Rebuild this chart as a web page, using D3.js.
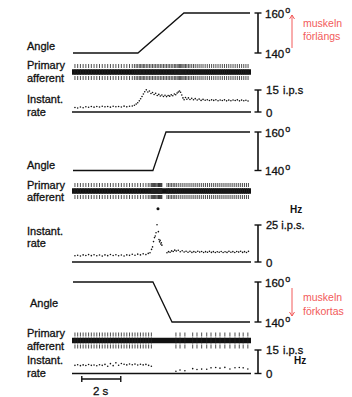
<!DOCTYPE html>
<html>
<head>
<meta charset="utf-8">
<script src="https://cdn.jsdelivr.net/npm/d3@7"></script>
<style>
  body { margin: 0; background: #fff; }
  svg { display: block; }
  text { font-family: "Liberation Sans", Arial, Helvetica, sans-serif; }
</style>
</head>
<body>
<svg id="fig" width="352" height="397"></svg>
<script>
// Joint angle (degrees) vs time (s) for the three manoeuvres
const angleSlowStretch = [[0, 140], [3.33, 140], [5.69, 160], [9.08, 160]];
const angleFastStretch = [[0, 140], [4.10, 140], [4.77, 160], [9.08, 160]];
const angleRelease     = [[0, 160], [4.10, 160], [5.08, 140], [9.08, 140]];

// Instantaneous discharge rate [time s, impulses/s]; every dot is one spike
const rateSlowStretch = [
  [0.10,3.1],[0.24,2.7],[0.38,3.4],[0.52,2.9],[0.66,3.6],[0.80,3.2],[0.94,3.8],[1.08,3.3],
  [1.22,3.7],[1.36,3.4],[1.50,3.9],[1.64,3.5],[1.78,3.8],[1.92,3.3],[2.06,3.9],[2.20,3.6],
  [2.34,3.8],[2.48,3.4],[2.62,4.0],[2.76,3.5],[2.90,3.9],[3.04,4.1],
  [3.15,4.6],[3.24,5.4],[3.32,6.3],[3.40,7.6],[3.47,9.0],[3.54,10.6],[3.61,12.3],[3.68,13.8],
  [3.76,15.1],[3.84,13.6],[3.92,14.3],[4.00,12.6],[4.08,13.3],[4.16,11.9],[4.24,12.7],[4.32,11.3],
  [4.40,12.0],[4.48,10.9],[4.56,11.6],[4.64,10.6],[4.72,11.4],[4.80,10.5],[4.88,11.2],[4.96,10.8],
  [5.04,11.7],[5.12,11.1],[5.20,12.3],[5.27,11.8],[5.34,12.9],[5.40,13.6],[5.46,14.3],[5.52,13.5],
  [5.58,11.6],[5.64,9.6],[5.70,8.4],[5.77,9.9],[5.84,8.7],[5.92,9.6],[6.00,8.5],[6.09,9.3],
  [6.18,8.4],[6.27,9.1],[6.37,8.2],[6.47,8.8],[6.57,7.9],[6.67,8.6],[6.78,8.0],[6.89,8.4],
  [7.00,7.8],[7.11,8.3],[7.22,7.9],[7.33,8.4],[7.44,7.7],[7.55,8.2],[7.66,7.8],[7.77,8.3],
  [7.88,7.6],[7.99,8.1],[8.10,7.7],[8.21,8.2],[8.32,7.8],[8.43,8.3],[8.54,7.6],[8.65,8.1],
  [8.76,7.7],[8.87,8.0],[8.98,7.5]
];
const rateFastStretch = [
  [0.10,4.2],[0.24,4.6],[0.38,4.1],[0.52,4.8],[0.66,4.4],[0.80,5.0],[0.94,4.3],[1.08,4.9],
  [1.22,4.2],[1.36,4.7],[1.50,4.0],[1.64,4.8],[1.78,4.3],[1.92,5.1],[2.06,4.4],[2.20,4.9],
  [2.34,4.2],[2.48,4.7],[2.62,4.1],[2.76,4.8],[2.90,4.5],[3.04,5.2],[3.18,4.6],[3.32,5.3],
  [3.46,4.8],[3.60,5.5],[3.74,5.0],[3.86,5.8],
  [3.95,6.3],[4.03,8.5],[4.08,10.2],[4.13,13.8],[4.18,16.5],[4.22,17.6],[4.26,19.8],[4.31,25.2],
  [4.36,36.0],[4.38,20.5],[4.41,15.2],[4.44,13.6],[4.47,14.6],[4.50,12.2],[4.53,13.0],[4.56,11.4],
  [4.82,6.2],[4.90,7.0],[4.98,6.6],[5.06,7.5],[5.14,7.1],[5.22,8.0],[5.30,7.4],[5.40,7.9],
  [5.50,6.9],[5.60,7.6],[5.70,6.8],[5.80,7.3],[5.90,6.6],[6.00,7.2],[6.10,6.5],[6.20,7.0],
  [6.30,6.6],[6.40,7.3],[6.50,6.7],[6.60,7.1],[6.70,6.4],[6.80,7.0],[6.90,6.6],[7.00,7.2],
  [7.10,6.5],[7.20,7.0],[7.30,6.4],[7.40,6.9],[7.50,6.6],[7.60,7.1],[7.70,6.4],[7.80,6.9],
  [7.90,6.5],[8.00,7.2],[8.10,6.6],[8.20,7.0],[8.30,6.4],[8.40,7.1],[8.50,6.7],[8.60,7.3],
  [8.70,6.5],[8.80,7.0],[8.90,6.4],[9.00,7.2]
];
const rateRelease = [
  [0.10,5.2],[0.24,5.6],[0.38,5.0],[0.52,5.5],[0.66,5.1],[0.80,5.7],[0.94,5.2],[1.08,5.4],
  [1.22,4.9],[1.36,5.6],[1.50,5.2],[1.64,5.8],[1.78,4.6],[1.92,6.3],[2.06,5.0],[2.20,6.8],
  [2.34,5.3],[2.48,6.4],[2.62,5.9],[2.76,5.5],[2.90,6.1],[3.04,5.6],[3.18,6.0],[3.32,5.4],
  [3.46,5.9],[3.60,5.5],[3.74,5.8],[3.88,5.2],[4.02,4.6],
  [5.28,1.4],[5.49,2.2],[5.74,1.8],[6.14,3.1],[6.36,2.6],[6.60,2.8],[6.86,2.7],[7.08,3.6],
  [7.32,3.8],[7.54,3.4],[7.79,3.9],[8.05,2.9],[8.31,3.7],[8.53,3.8],[8.73,3.6],[8.97,2.9]
];

// Scale-bar values
const angleTicks = [140, 160];
const rateTopTicks = [15, 25, 15];
const rateUnits = ["i.p.s", "i.p.s.", "i.p.s"];
const timeBarSeconds = [0.45, 2.45];
const timeBarLabel = "2 s";
const redNotes = [["muskeln", "förlängs"], null, ["muskeln", "förkortas"]];

const svg = d3.select("#fig");
const x = d3.scaleLinear().domain([0, 9.08]).range([73, 250]);

const panels = [
  { angle: angleSlowStretch, rate: rateSlowStretch, angleY: [53, 13],    aff: 72,    rateY: [112, 90],    max: rateTopTicks[0], unit: rateUnits[0],
    labels: { angle: [27, 50], primary: [27, 69], afferent: [27, 82], instant: [27, 103], rate: [27, 116] },
    unitSplit: true, hz: null, note: redNotes[0], noteY: [27, 40], arrow: [48, 15] },
  { angle: angleFastStretch, rate: rateFastStretch, angleY: [170.5, 132], aff: 191, rateY: [262, 225],  max: rateTopTicks[1], unit: rateUnits[1],
    labels: { angle: [27, 169], primary: [27, 189], afferent: [27, 201], instant: [27, 235], rate: [27, 247] },
    unitSplit: false, hz: [290, 213], note: null },
  { angle: angleRelease,     rate: rateRelease,     angleY: [322, 282],  aff: 340.5, rateY: [373.5, 350], max: rateTopTicks[2], unit: rateUnits[2],
    labels: { angle: [30, 307], primary: [27, 337], afferent: [27, 350], instant: [27, 364], rate: [27, 377] },
    unitSplit: true, hz: [294, 364], note: redNotes[2], noteY: [301, 315], arrow: [288, 316] }
];

const label = (g, xy, txt, size = 11) =>
  g.append("text").attr("x", xy[0]).attr("y", xy[1]).attr("font-size", size)
    .attr("fill", "#111").attr("stroke", "#111").attr("stroke-width", 0.3).text(txt);

function scaleBar(g, y0, y1) {
  const bx = 258;
  g.append("line").attr("x1", bx).attr("x2", bx).attr("y1", y0).attr("y2", y1)
    .attr("stroke", "#111").attr("stroke-width", 1.6);
  [y0, y1].forEach(yy => g.append("line").attr("x1", bx - 3.5).attr("x2", bx + 3.5)
    .attr("y1", yy).attr("y2", yy).attr("stroke", "#111").attr("stroke-width", 1.4));
}

function degreeLabel(g, xx, yy, val) {
  const t = g.append("text").attr("x", xx).attr("y", yy).attr("font-size", 11.5)
    .attr("fill", "#111").attr("stroke", "#111").attr("stroke-width", 0.3);
  t.append("tspan").text(val);
  t.append("tspan").attr("dy", -5).attr("dx", 1).attr("font-size", 9).text("o");
}

panels.forEach(p => {
  const g = svg.append("g");
  const yA = d3.scaleLinear().domain(angleTicks).range(p.angleY);
  const yR = d3.scaleLinear().domain([0, p.max]).range(p.rateY);

  // left-hand trace names
  label(g, p.labels.angle, "Angle");
  label(g, p.labels.primary, "Primary");
  label(g, p.labels.afferent, "afferent");
  label(g, p.labels.instant, "Instant.");
  label(g, p.labels.rate, "rate");

  // joint angle trace
  g.append("path").datum(p.angle)
    .attr("d", d3.line().x(d => x(d[0])).y(d => yA(d[1])))
    .attr("fill", "none").attr("stroke", "#111").attr("stroke-width", 1.3);

  // angle calibration bar
  scaleBar(g, yA(angleTicks[0]), yA(angleTicks[1]));
  degreeLabel(g, 265, yA(160) + 4.5, "160");
  degreeLabel(g, 265, yA(140) + 4.5, "140");

  // afferent recording: baseline noise band plus one spike per discharge
  g.append("line").attr("x1", x(0) - 1).attr("x2", x(9.08) + 1)
    .attr("y1", p.aff).attr("y2", p.aff).attr("stroke", "#111").attr("stroke-width", 5.5);
  g.append("g").selectAll("line").data(p.rate).join("line")
    .attr("x1", d => x(d[0])).attr("x2", d => x(d[0]))
    .attr("y1", p.aff - 8).attr("y2", p.aff + 8)
    .attr("stroke", "#222").attr("stroke-width", 0.8).attr("stroke-dasharray", "4,1,6,1,4");

  // instantaneous rate dots and zero line
  g.append("line").attr("x1", x(0) - 1).attr("x2", x(9.08) + 1)
    .attr("y1", yR(0)).attr("y2", yR(0)).attr("stroke", "#111").attr("stroke-width", 1.6);
  g.append("g").selectAll("circle").data(p.rate).join("circle")
    .attr("cx", d => x(d[0])).attr("cy", d => yR(d[1]))
    .attr("r", d => d[1] > 30 ? 1.5 : 0.8).attr("fill", "#111");

  // rate calibration bar
  scaleBar(g, yR(0), yR(p.max));
  label(g, [266, yR(0) + 4.5], "0", 11.5);
  if (p.unitSplit) {
    label(g, [266, yR(p.max) + 4], String(p.max), 11.5);
    label(g, [283, yR(p.max) + 4], p.unit, 11);
  } else {
    label(g, [266, yR(p.max) + 4], p.max + " " + p.unit, 11);
  }
  if (p.hz) {
    g.append("text").attr("x", p.hz[0]).attr("y", p.hz[1]).attr("font-size", 10)
      .attr("font-weight", "bold").attr("fill", "#111").text("Hz");
  }

  // red annotation: direction of muscle length change
  if (p.note) {
    const red = "#f25a5a";
    p.note.forEach((s, i) => g.append("text").attr("x", 303).attr("y", p.noteY[i])
      .attr("font-family", "'Open Sans', 'Noto Sans', sans-serif").attr("font-size", 10.5)
      .attr("fill", red).text(s));
    const ax = 292, [a0, a1] = p.arrow, dir = a1 < a0 ? 1 : -1;
    g.append("line").attr("x1", ax).attr("x2", ax).attr("y1", a0).attr("y2", a1)
      .attr("stroke", red).attr("stroke-width", 1);
    g.append("path").attr("d", `M${ax - 2.5},${a1 + dir * 4}L${ax},${a1}L${ax + 2.5},${a1 + dir * 4}`)
      .attr("fill", "none").attr("stroke", red).attr("stroke-width", 1);
  }
});

// time calibration bar
const tb = svg.append("g");
const [t0, t1] = timeBarSeconds.map(x);
tb.append("line").attr("x1", t0).attr("x2", t1).attr("y1", 379).attr("y2", 379)
  .attr("stroke", "#111").attr("stroke-width", 1.6);
[t0, t1].forEach(xx => tb.append("line").attr("x1", xx).attr("x2", xx)
  .attr("y1", 376).attr("y2", 382).attr("stroke", "#111").attr("stroke-width", 1.4));
label(tb, [93, 395], timeBarLabel, 11.5);
</script>
</body>
</html>
